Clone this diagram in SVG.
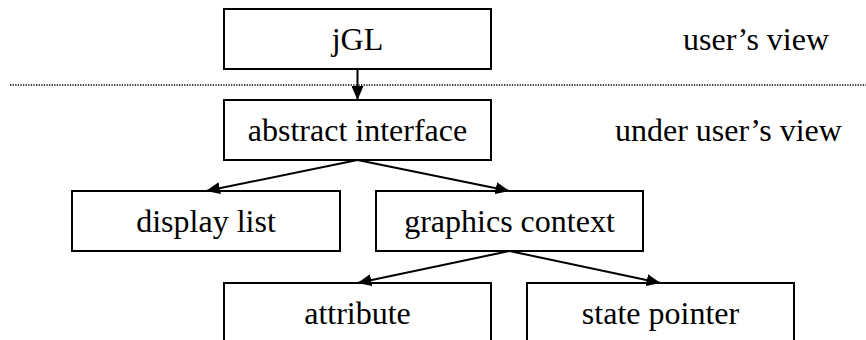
<svg xmlns="http://www.w3.org/2000/svg" width="866" height="340" viewBox="0 0 866 340">
<style>
.box{fill:#fff;stroke:#000;stroke-width:2}
.t{font-family:'Liberation Serif','Times New Roman',Times,'DejaVu Serif',serif;font-size:32px;fill:#000}
.c{text-anchor:middle}
.e{stroke:#000;stroke-width:2;fill:none;marker-end:url(#ah)}
</style>
<defs>
<marker id="ah" markerUnits="userSpaceOnUse" markerWidth="14" markerHeight="12" refX="14" refY="6" orient="auto">
<path d="M0,0 L14,6 L0,12 z" fill="#000"/>
</marker>
</defs>
<rect width="866" height="340" fill="#fff"/>
<line x1="10" y1="85" x2="866" y2="85" stroke="#000" stroke-width="1.3" stroke-dasharray="1.3 1.3"/>
<text class="t" x="683" y="50">user’s view</text>
<text class="t" x="615" y="141">under user’s view</text>
<g id="jgl"><rect class="box" x="224" y="9" width="267" height="60"/><text class="t c" x="357.5" y="50">jGL</text></g>
<g id="abstract"><rect class="box" x="224" y="100" width="267" height="60"/><text class="t c" x="357.5" y="141">abstract interface</text></g>
<g id="display"><rect class="box" x="72" y="191" width="268" height="60"/><text class="t c" x="206" y="232">display list</text></g>
<g id="graphics"><rect class="box" x="376" y="191" width="267" height="60"/><text class="t c" x="509.5" y="232">graphics context</text></g>
<g id="attribute"><rect class="box" x="224" y="283" width="267" height="70"/><text class="t c" x="357.5" y="324">attribute</text></g>
<g id="state"><rect class="box" x="527" y="283" width="267" height="70"/><text class="t c" x="660.5" y="324">state pointer</text></g>
<g id="connectors">
<line class="e" x1="357.5" y1="69" x2="357.5" y2="100"/>
<line class="e" x1="357.5" y1="160" x2="206" y2="191"/>
<line class="e" x1="357.5" y1="160" x2="509.5" y2="191"/>
<line class="e" x1="509.5" y1="251" x2="357.5" y2="283"/>
<line class="e" x1="509.5" y1="251" x2="660.5" y2="283"/>
</g>
</svg>
